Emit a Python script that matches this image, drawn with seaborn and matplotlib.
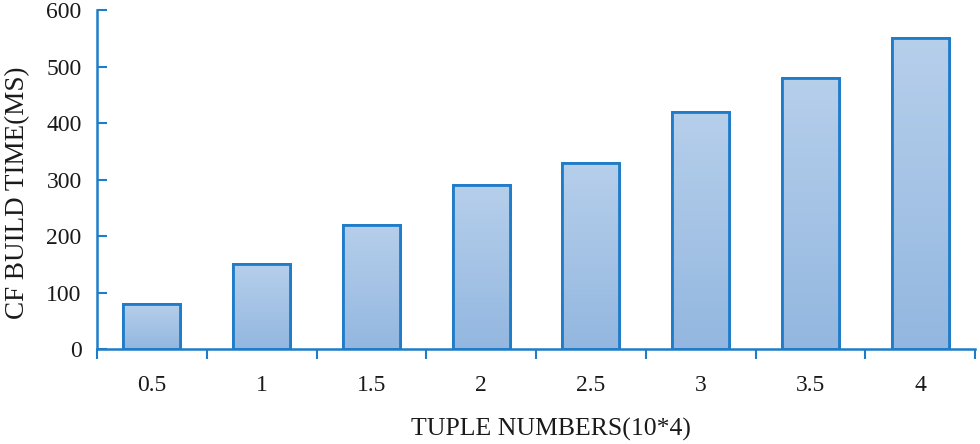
import numpy as np
import pandas as pd
import matplotlib
matplotlib.use("Agg")
import matplotlib.pyplot as plt
import seaborn as sns
from matplotlib.colors import LinearSegmentedColormap

# Datos
tuplas = ["0.5", "1", "1.5", "2", "2.5", "3", "3.5", "4"]
tiempos = [80, 150, 220, 290, 330, 420, 480, 550]
ticks_y = [0, 100, 200, 300, 400, 500, 600]

AZUL = "#1f7cc8"
TEXTO = "#1a1a1a"

sns.set_theme(style="white")
plt.rcParams["font.family"] = ["Liberation Serif", "DejaVu Serif"]

df = pd.DataFrame({"tupla": tuplas, "tiempo": tiempos})

fig = plt.figure(figsize=(9.8, 4.44), dpi=100)
ax = fig.add_axes([0.099, 0.214, 0.896, 0.763])

sns.barplot(data=df, x="tupla", y="tiempo", order=tuplas, color="#a6c4e6",
            width=0.52, edgecolor=AZUL, linewidth=2.0, saturation=1, ax=ax)

# Relleno degradado dentro de cada barra
degradado = LinearSegmentedColormap.from_list("deg", ["#b6cfeb", "#93b7e0"])
grad = np.linspace(0, 1, 256).reshape(-1, 1)
for barra in ax.patches:
    x0, y0 = barra.get_x(), barra.get_y()
    w, h = barra.get_width(), barra.get_height()
    img = ax.imshow(grad, cmap=degradado, aspect="auto", origin="upper",
                    extent=[x0, x0 + w, y0, y0 + h], zorder=barra.get_zorder() + 0.1)
    img.set_clip_path(barra)
    borde = plt.Rectangle((x0, y0), w, h, fill=False, edgecolor=AZUL,
                          linewidth=2.0, zorder=barra.get_zorder() + 0.2)
    ax.add_patch(borde)

ax.set_xlim(-0.5, len(tuplas) - 0.5)
ax.set_ylim(0, 600)
ax.set_yticks(ticks_y)
ax.set_yticklabels([str(v) for v in ticks_y])

# Ticks del eje x en los límites entre categorías
ax.set_xticks(np.arange(len(tuplas)), labels=tuplas)
ax.set_xticks(np.arange(len(tuplas) + 1) - 0.5, minor=True)
ax.tick_params(axis="x", which="major", length=0, pad=19, labelsize=17, labelcolor=TEXTO)
ax.tick_params(axis="x", which="minor", direction="out", length=7.5, width=1.5,
               color=AZUL, bottom=True)
ax.tick_params(axis="y", direction="in", length=7, width=1.5, color=AZUL,
               pad=11, labelsize=17, labelcolor=TEXTO, left=True)

sns.despine(ax=ax, top=True, right=True)
for lado in ["left", "bottom"]:
    ax.spines[lado].set_color(AZUL)
    ax.spines[lado].set_linewidth(1.8)

ax.set_xlabel("TUPLE NUMBERS(10*4)", fontsize=18.5, color=TEXTO)
ax.set_ylabel("CF BUILD TIME(MS)", fontsize=19.5, color=TEXTO)
ax.xaxis.set_label_coords(0.517, -0.203)
ax.yaxis.set_label_coords(-0.076, 0.46)
ax.grid(False)

fig.savefig("out.png", dpi=100)
plt.close(fig)
